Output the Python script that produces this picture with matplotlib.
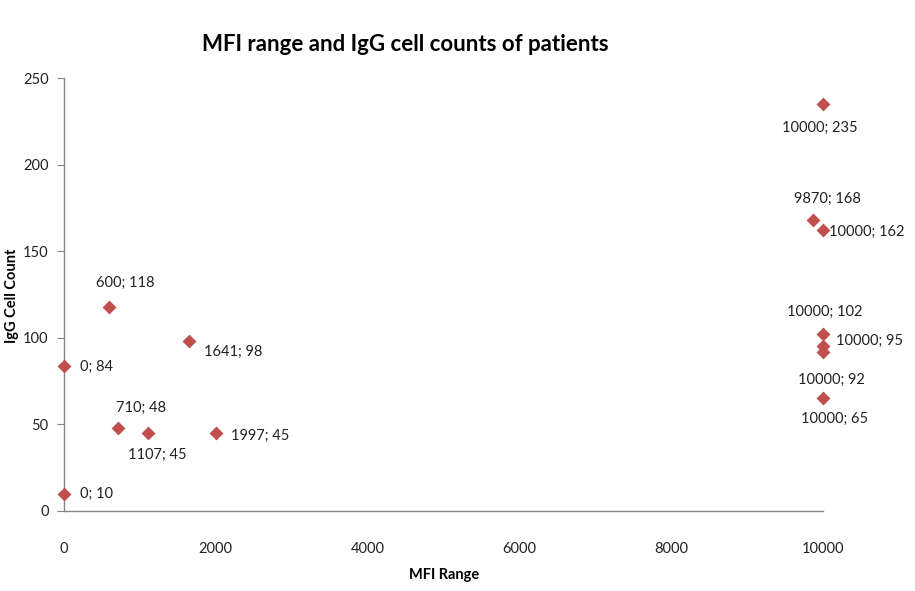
#!/usr/bin/env python3
"""Scatter of MFI range vs IgG cell count, Excel-like styling."""

import matplotlib
matplotlib.use("Agg")
import matplotlib.pyplot as plt

# ----------------------------------------------------------------------------
# DATA
# ----------------------------------------------------------------------------
mfi = [0, 0, 600, 1641, 710, 1107, 1997,
       10000, 9870, 10000, 10000, 10000, 10000, 10000]
igg = [84, 10, 118, 98, 48, 45, 45,
       235, 168, 162, 102, 95, 92, 65]

# label placement for each point: (dx, dy) in pixels, horizontal alignment
label_offsets = [(16, -1, 'left'), (16, 0, 'left'), (16, 24, 'center'),
                 (15, -11, 'left'), (23, 20, 'center'), (9, -22, 'center'),
                 (15, -3, 'left'),
                 (-3, -24, 'center'), (14, 21, 'center'), (6, -1, 'left'),
                 (2, 22, 'center'), (13, 6, 'left'), (8, -28, 'center'),
                 (12, -20, 'center')]

COLOR = '#C0504D'
AXIS_COLOR = '#868686'

plt.rcParams['font.family'] = ['Lato', 'DejaVu Sans']

fig = plt.figure(figsize=(9.15, 5.91), dpi=100)
ax = fig.add_axes([0.0699, 0.1354, 0.8295, 0.7326])

ax.scatter(mfi, igg, marker='D', s=50, color=COLOR, linewidths=0, zorder=3,
           clip_on=False)

for x, y, (dx, dy, ha) in zip(mfi, igg, label_offsets):
    ax.annotate(f"{x}; {y}", (x, y), xytext=(dx, dy),
                textcoords='offset pixels', ha=ha, va='center',
                fontsize=10.5, color='#222222')

ax.set_xlim(0, 10000)
ax.set_ylim(0, 250)
ax.set_xticks(range(0, 10001, 2000))
ax.set_yticks(range(0, 251, 50))

for side in ('top', 'right'):
    ax.spines[side].set_visible(False)
for side in ('left', 'bottom'):
    ax.spines[side].set_color(AXIS_COLOR)
    ax.spines[side].set_linewidth(1.0)

ax.tick_params(axis='y', length=5, color=AXIS_COLOR, labelsize=10.5,
               pad=6, labelcolor='#222222')
ax.tick_params(axis='x', length=0, labelsize=10.5, pad=22,
               labelcolor='#222222')

fig.text(0.013, 0.5, 'IgG Cell Count', ha='center', va='center',
         rotation=90, fontsize=10.5, fontweight='bold')
fig.text(0.485, 0.027, 'MFI Range', ha='center', va='center',
         fontsize=10.5, fontweight='bold')

fig.text(0.443, 0.924, 'MFI range and IgG cell counts of patients',
         ha='center', va='center', fontsize=16, fontweight='bold')

fig.savefig('out.png', dpi=100)
